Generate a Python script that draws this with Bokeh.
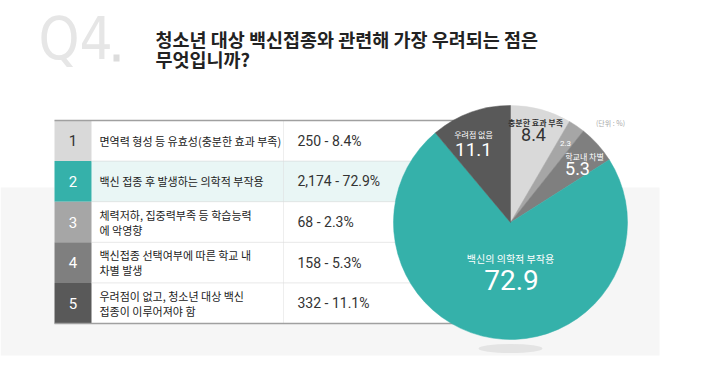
import numpy as np
from bokeh.plotting import figure
from bokeh.models import Range1d, ColumnDataSource
from bokeh.core.properties import value
from bokeh.embed import file_html
from bokeh.resources import INLINE

# ---------------- data ----------------
row_numbers = ["1", "2", "3", "4", "5"]
row_labels = [
    ["면역력 형성 등 유효성(충분한 효과 부족)"],
    ["백신 접종 후 발생하는 의학적 부작용"],
    ["체력저하, 집중력부족 등 학습능력", "에 악영향"],
    ["백신접종 선택여부에 따른 학교 내", "차별 발생"],
    ["우려점이 없고, 청소년 대상 백신", "접종이 이루어져야 함"],
]
counts = [250, 2174, 68, 158, 332]
percents = [8.4, 72.9, 2.3, 5.3, 11.1]
pie_short_labels = ["충분한 효과 부족", "백신의 의학적 부작용", "", "학교내 차별", "우려점 없음"]
pie_order = [0, 2, 3, 1, 4]          # clockwise from 12 o'clock
row_colors = ["#d9d9d9", "#35b1aa", "#a6a6a6", "#7f7f7f", "#595959"]
num_text_colors = ["#333333", "#ffffff", "#ffffff", "#ffffff", "#ffffff"]
title_lines = ["청소년 대상 백신접종와 관련해 가장 우려되는 점은", "무엇입니까?"]
unit_label = "(단위 : %)"

W, H = 711, 367
KR = value("Noto Sans CJK KR")
NUM = value("Roboto")


def Y(py):
    return H - py


p = figure(width=W, height=H, x_range=Range1d(0, W), y_range=Range1d(0, H),
           output_backend="svg", toolbar_location=None, min_border=0)
p.axis.visible = False
p.grid.visible = False
p.outline_line_color = None
p.background_fill_color = "white"
p.border_fill_color = "white"

# background band
p.quad(left=0, right=659, top=Y(187), bottom=Y(355), fill_color="#f6f6f6", line_color=None)

# ---------------- title ----------------
p.text(x=[38], y=[Y(38)], text=["Q4"], text_font=value("'Liberation Sans Narrow', 'DejaVu Sans Condensed', Roboto"),
       text_font_size="58px", text_color="#e6e6e6", text_baseline="middle", text_align="left")
p.quad(left=113, right=119, top=Y(54), bottom=Y(61), fill_color="#dcdcdc", line_color=None)
p.text(x=[155, 155], y=[Y(38), Y(58)], text=title_lines, text_font=KR, text_font_size="18.5px",
       text_font_style="bold", text_color="#222222", text_baseline="middle", text_align="left")

# ---------------- table ----------------
top0 = 120
rh = 40.6
tx0, tnum, tsep, tx1 = 54, 91, 283, 470
n = len(row_numbers)
tops = [top0 + i * rh for i in range(n)]
bots = [t + rh for t in tops]
mids = [(t + b) / 2 for t, b in zip(tops, bots)]

# white table body
p.quad(left=tx0, right=tx1, top=Y(top0), bottom=Y(bots[-1]), fill_color="white", line_color=None)
# highlighted row 2
p.quad(left=tnum, right=tx1, top=Y(tops[1]), bottom=Y(bots[1]), fill_color="#e9f6f5", line_color=None)
# number cells
p.quad(left=[tx0] * n, right=[tnum] * n, top=[Y(t) for t in tops], bottom=[Y(b) for b in bots],
       fill_color=row_colors, line_color=None)
# separators
for b in bots[:-1]:
    p.segment(x0=tnum, x1=tx1, y0=Y(b), y1=Y(b), line_color="#d0d0d0", line_width=1, line_dash="1 1")
p.segment(x0=tsep, x1=tsep, y0=Y(top0), y1=Y(bots[-1]), line_color="#dddddd", line_width=1, line_dash="1 1")
p.segment(x0=tx0, x1=tx1, y0=Y(top0), y1=Y(top0), line_color="#a0a0a0", line_width=1.5)
p.segment(x0=tx0, x1=tx1, y0=Y(bots[-1]), y1=Y(bots[-1]), line_color="#a0a0a0", line_width=1.5)

p.text(x=[(tx0 + tnum) / 2] * n, y=[Y(m) for m in mids], text=row_numbers, text_font=NUM,
       text_font_size="15px", text_color=num_text_colors, text_baseline="middle", text_align="center")

lx, ly, lt = [], [], []
for lines, m in zip(row_labels, mids):
    offs = [0] if len(lines) == 1 else [-7.5, 7.5]
    for s, o in zip(lines, offs):
        lx.append(99)
        ly.append(Y(m + o))
        lt.append(s)
p.text(x=lx, y=ly, text=lt, text_font=KR, text_font_size="11px", text_color="#222222",
       text_baseline="middle", text_align="left")

vals = [f"{c:,} - {v}%" for c, v in zip(counts, percents)]
p.text(x=[297] * n, y=[Y(m) for m in mids], text=vals, text_font=NUM, text_font_size="14px",
       text_color="#333333", text_baseline="middle", text_align="left")

# ---------------- pie ----------------
cx, cy, R = 510, 222, 117
p.ellipse(x=[cx], y=[Y(348)], width=64, height=9, fill_color="#e4e4e4", line_color=None)

ordered_vals = [percents[i] for i in pie_order]
cum = np.cumsum([0] + ordered_vals) / sum(ordered_vals) * 2 * np.pi
starts = np.pi / 2 - cum[1:]
ends = np.pi / 2 - cum[:-1]
src = ColumnDataSource(dict(start=starts, end=ends, color=[row_colors[i] for i in pie_order]))
p.wedge(x=cx, y=Y(cy), radius=R, radius_units="screen", start_angle="start", end_angle="end",
        fill_color="color", line_color="color", line_width=0.5, source=src)

# pie labels
p.text(x=[535], y=[Y(122)], text=[pie_short_labels[0]], text_font=KR, text_font_size="8px",
       text_font_style="bold", text_color="#333333", text_baseline="middle", text_align="center")
p.text(x=[533], y=[Y(134)], text=[f"{percents[0]}"], text_font=NUM, text_font_size="18px",
       text_color="#333333", text_baseline="middle", text_align="center")
p.text(x=[565], y=[Y(143)], text=[f"{percents[2]}"], text_font=NUM, text_font_size="8px",
       text_color="#ffffff", text_baseline="middle", text_align="center")
p.text(x=[584], y=[Y(156)], text=[pie_short_labels[3]], text_font=KR, text_font_size="8px",
       text_color="#ffffff", text_baseline="middle", text_align="center")
p.text(x=[577], y=[Y(168)], text=[f"{percents[3]}"], text_font=NUM, text_font_size="18px",
       text_color="#ffffff", text_baseline="middle", text_align="center")
p.text(x=[473], y=[Y(134)], text=[pie_short_labels[4]], text_font=KR, text_font_size="8px",
       text_color="#ffffff", text_baseline="middle", text_align="center")
p.text(x=[473], y=[Y(149)], text=[f"{percents[4]}"], text_font=NUM, text_font_size="19px",
       text_color="#ffffff", text_baseline="middle", text_align="center")
p.text(x=[510], y=[Y(258)], text=[pie_short_labels[1]], text_font=KR, text_font_size="10px",
       text_color="#ffffff", text_baseline="middle", text_align="center")
p.text(x=[511], y=[Y(279)], text=[f"{percents[1]}"], text_font=NUM, text_font_size="28px",
       text_color="#ffffff", text_baseline="middle", text_align="center")
p.text(x=[610], y=[Y(122)], text=[unit_label], text_font=KR, text_font_size="7px",
       text_color="#aaaaaa", text_baseline="middle", text_align="center")

open("out.html", "w").write(file_html(p, INLINE))
